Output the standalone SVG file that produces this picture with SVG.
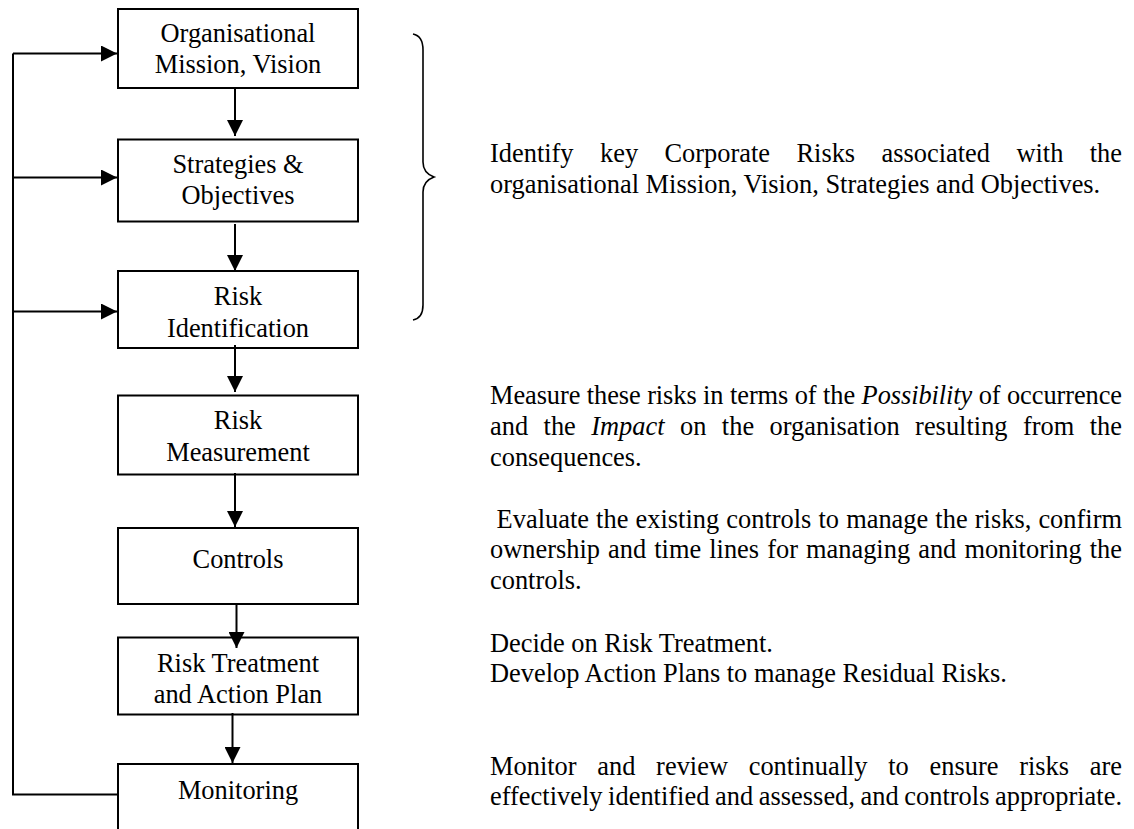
<svg xmlns="http://www.w3.org/2000/svg" width="1134" height="829" viewBox="0 0 1134 829">
<defs>
<style>
.box{fill:#fff;stroke:#000;stroke-width:2}
.t{font-family:"Liberation Serif","Times New Roman",serif;font-size:26.4px;fill:#000}
.c{text-anchor:middle}
.ln{fill:none;stroke:#000;stroke-width:2}
.br{fill:none;stroke:#000;stroke-width:1.6}
</style>
<marker id="ah" markerUnits="userSpaceOnUse" markerWidth="16" markerHeight="16" viewBox="0 0 16 16" refX="16" refY="8" orient="auto">
<path d="M0 0 L16 8 L0 16 Z" fill="#000"/>
</marker>
</defs>
<rect width="1134" height="829" fill="#fff"/>

<g id="node-mission">
<rect class="box" x="118" y="9" width="240" height="79"/>
<text class="t c" x="238" y="42">Organisational</text>
<text class="t c" x="238" y="73">Mission, Vision</text>
</g>
<g id="node-strategies">
<rect class="box" x="118" y="139.5" width="240" height="82"/>
<text class="t c" x="238" y="173">Strategies &amp;</text>
<text class="t c" x="238" y="204">Objectives</text>
</g>
<g id="node-identification">
<rect class="box" x="118" y="271" width="240" height="77"/>
<text class="t c" x="238" y="305">Risk</text>
<text class="t c" x="238" y="337">Identification</text>
</g>
<g id="node-measurement">
<rect class="box" x="118" y="395.5" width="240" height="79"/>
<text class="t c" x="238" y="428.5">Risk</text>
<text class="t c" x="238" y="460.5">Measurement</text>
</g>
<g id="node-controls">
<rect class="box" x="118" y="528" width="240" height="76"/>
<text class="t c" x="238" y="568">Controls</text>
</g>
<g id="node-treatment">
<rect class="box" x="118" y="637.5" width="240" height="77"/>
<text class="t c" x="238" y="671.5">Risk Treatment</text>
<text class="t c" x="238" y="703">and Action Plan</text>
</g>
<g id="node-monitoring">
<rect class="box" x="118" y="764" width="240" height="80"/>
<text class="t c" x="238" y="799">Monitoring</text>
</g>

<g id="connectors">
<path class="ln" d="M13 53.5 V794.5 H117"/>
<line class="ln" x1="13" y1="53.5" x2="117" y2="53.5" marker-end="url(#ah)"/>
<line class="ln" x1="13" y1="177.5" x2="117" y2="177.5" marker-end="url(#ah)"/>
<line class="ln" x1="13" y1="311.5" x2="117" y2="311.5" marker-end="url(#ah)"/>
<line class="ln" x1="235" y1="88" x2="235" y2="136" marker-end="url(#ah)"/>
<line class="ln" x1="235" y1="224" x2="235" y2="271" marker-end="url(#ah)"/>
<line class="ln" x1="235" y1="345" x2="235" y2="392" marker-end="url(#ah)"/>
<line class="ln" x1="235" y1="473" x2="235" y2="527" marker-end="url(#ah)"/>
<line class="ln" x1="236.5" y1="603" x2="236.5" y2="648" marker-end="url(#ah)"/>
<line class="ln" x1="232.5" y1="713" x2="232.5" y2="763" marker-end="url(#ah)"/>
</g>

<g id="brace">
<path class="br" d="M413 34 Q423 36 423 50 L423 162 Q423 173 434 177 Q423 181 423 192 L423 305 Q423 318 413 320"/>
</g>

<g id="notes">
<text class="t" x="490" y="162" word-spacing="19.8" textLength="632" lengthAdjust="spacing">Identify key Corporate Risks associated with the</text>
<text class="t" x="490" y="193">organisational Mission, Vision, Strategies and Objectives.</text>

<text class="t" x="490" y="404" textLength="632" lengthAdjust="spacing">Measure these risks in terms of the <tspan font-style="italic">Possibility</tspan> of occurrence</text>
<text class="t" x="490" y="435" word-spacing="8.8" textLength="632" lengthAdjust="spacing">and the <tspan font-style="italic">Impact</tspan> on the organisation resulting from the</text>
<text class="t" x="490" y="466">consequences.</text>

<text class="t" x="496.6" y="528" word-spacing="0.5" textLength="625.4" lengthAdjust="spacing">Evaluate the existing controls to manage the risks, confirm</text>
<text class="t" x="490" y="558" word-spacing="1.5" textLength="632" lengthAdjust="spacing">ownership and time lines for managing and monitoring the</text>
<text class="t" x="490" y="589">controls.</text>

<text class="t" x="490" y="652">Decide on Risk Treatment.</text>
<text class="t" x="490" y="682">Develop Action Plans to manage Residual Risks.</text>

<text class="t" x="490" y="775" word-spacing="14.1" textLength="632" lengthAdjust="spacing">Monitor and review continually to ensure risks are</text>
<text class="t" x="490" y="805" word-spacing="-1" textLength="632" lengthAdjust="spacing">effectively identified and assessed, and controls appropriate.</text>
</g>
</svg>
